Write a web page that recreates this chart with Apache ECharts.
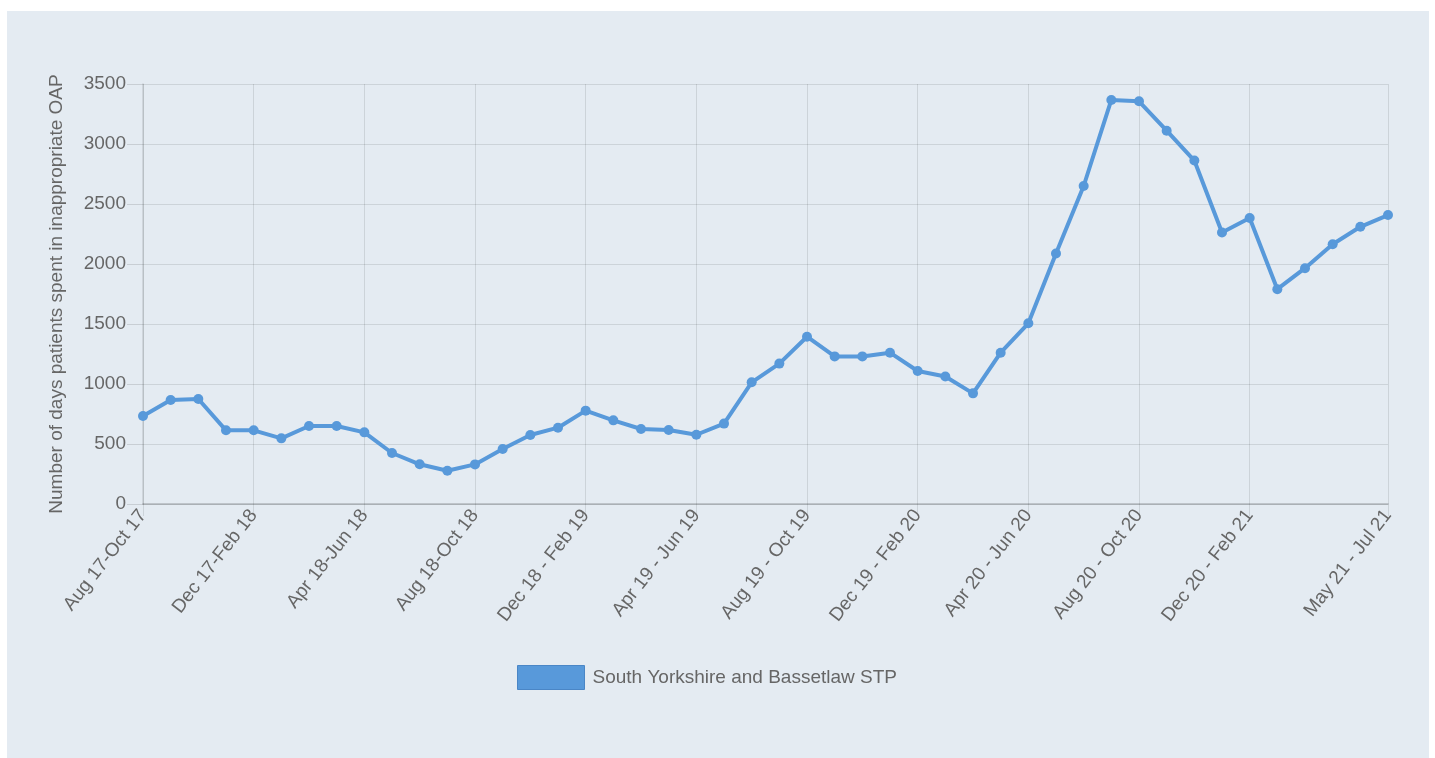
<!DOCTYPE html>
<html>
<head>
<meta charset="utf-8">
<script src="https://cdn.jsdelivr.net/npm/echarts@6/dist/echarts.min.js"></script>
<style>
html,body{margin:0;padding:0;background:#ffffff;}
#chart{width:1435px;height:758px;}
</style>
</head>
<body>
<div id="chart"></div>
<script>
const categories = [
"Aug 17-Oct 17","Sep 17-Nov 17","Oct 17-Dec 17","Nov 17-Jan 18",
"Dec 17-Feb 18","Jan 18-Mar 18","Feb 18-Apr 18","Mar 18-May 18",
"Apr 18-Jun 18","May 18-Jul 18","Jun 18-Aug 18","Jul 18-Sep 18",
"Aug 18-Oct 18","Sep 18-Nov 18","Oct 18-Dec 18","Nov 18-Jan 19",
"Dec 18 - Feb 19","Jan 19 - Mar 19","Feb 19 - Apr 19","Mar 19 - May 19",
"Apr 19 - Jun 19","May 19 - Jul 19","Jun 19 - Aug 19","Jul 19 - Sep 19",
"Aug 19 - Oct 19","Sep 19 - Nov 19","Oct 19 - Dec 19","Nov 19 - Jan 20",
"Dec 19 - Feb 20","Jan 20 - Mar 20","Feb 20 - Apr 20","Mar 20 - May 20",
"Apr 20 - Jun 20","May 20 - Jul 20","Jun 20 - Aug 20","Jul 20 - Sep 20",
"Aug 20 - Oct 20","Sep 20 - Nov 20","Oct 20 - Dec 20","Nov 20 - Jan 21",
"Dec 20 - Feb 21","Jan 21 - Mar 21","Feb 21 - Apr 21","Mar 21 - May 21",
"Apr 21 - Jun 21","May 21 - Jul 21"
];
const seriesName = "South Yorkshire and Bassetlaw STP";
const values = [
733, 867, 875, 614, 614, 547, 650, 650,
597, 425, 331, 277, 330, 458, 575, 636,
778, 697, 625, 617, 577, 670, 1014, 1170,
1394, 1230, 1230, 1261, 1108, 1062, 922, 1261,
1506, 2088, 2650, 3367, 3356, 3111, 2862, 2262,
2383, 1790, 1965, 2165, 2310, 2408
];
const yTicks = {min: 0, max: 3500, interval: 500};
const yTitle = "Number of days patients spent in inappropriate OAP";

const lastIdx = categories.length - 1;
const showIdx = (i) => (i % 4 === 0 && i < lastIdx - 1) || i === lastIdx;
const gridColor = 'rgba(0,0,0,0.1)';
const textColor = '#666666';
const font = '"Liberation Sans", Arial, Helvetica, sans-serif';
const fs = 19;

const chart = echarts.init(document.getElementById('chart'));
chart.setOption({
  backgroundColor: '#ffffff',
  animation: false,
  textStyle: {fontFamily: font},
  graphic: [{
    type: 'rect', z: -10, silent: true,
    shape: {x: 7, y: 11, width: 1422, height: 747},
    style: {fill: '#e4ebf2'}
  }],
  grid: {left: 143, right: 47, top: 84, bottom: 254, containLabel: false},
  legend: {
    left: 517, top: 665, padding: 0,
    icon: 'rect', itemWidth: 67, itemHeight: 24, itemGap: 10,
    textStyle: {color: textColor, fontSize: fs, fontFamily: font, padding: [0, 0, 0, 3]},
    data: [{name: seriesName, itemStyle: {color: '#5899da', borderColor: '#4a86c6', borderWidth: 1}}]
  },
  xAxis: {
    type: 'category',
    data: categories,
    boundaryGap: false,
    axisLine: {show: true, lineStyle: {color: 'rgba(0,0,0,0.22)', width: 1.5}},
    axisTick: {show: true, length: 12, interval: (i) => showIdx(i), lineStyle: {color: gridColor}},
    axisLabel: {
      interval: (i) => showIdx(i), rotate: 52, color: textColor, fontSize: fs,
      fontFamily: font, margin: 8
    },
    splitLine: {show: true, interval: (i) => showIdx(i), lineStyle: {color: gridColor, width: 1}}
  },
  yAxis: {
    type: 'value',
    min: yTicks.min, max: yTicks.max, interval: yTicks.interval,
    name: yTitle, nameLocation: 'middle', nameGap: 77, nameRotate: 90,
    nameTextStyle: {color: textColor, fontSize: fs, fontFamily: font},
    axisLine: {show: true, lineStyle: {color: 'rgba(0,0,0,0.12)', width: 1.5}},
    axisTick: {show: true, inside: false, length: 16, lineStyle: {color: 'rgba(0,0,0,0.12)', width: 1}},
    axisLabel: {color: textColor, fontSize: fs, fontFamily: font, margin: 17, formatter: (v) => String(v)},
    splitLine: {show: true, lineStyle: {color: gridColor, width: 1}}
  },
  series: [{
    name: seriesName,
    type: 'line',
    data: values,
    smooth: false,
    symbol: 'circle',
    symbolSize: 10,
    showAllSymbol: true,
    lineStyle: {color: '#5899da', width: 4},
    itemStyle: {color: '#5899da'}
  }]
});
</script>
</body>
</html>
